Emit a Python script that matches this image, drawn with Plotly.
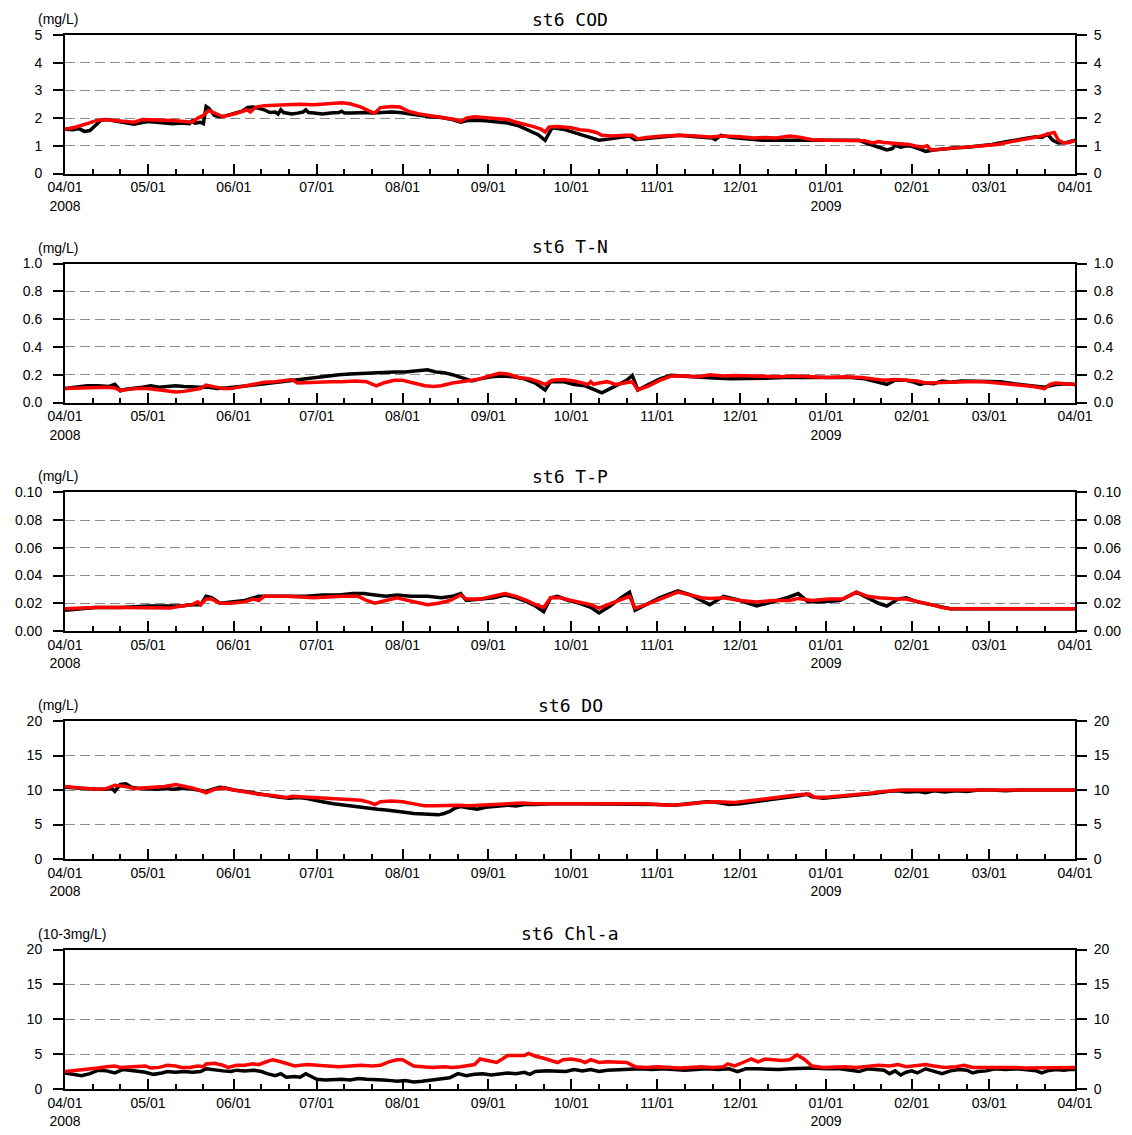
import pandas as pd
import plotly.graph_objects as go

# ---------------------------------------------------------------------------
# Station st6, April 2008 - March 2009.  Series are given as (day offset from
# 2008-04-01, value) pairs; "obs" is drawn in black, "calc" in red.
# ---------------------------------------------------------------------------
START = pd.Timestamp("2008-04-01")

cod_obs_day = [0, 3, 5, 7, 9, 11, 13, 15, 18, 21, 23, 25, 27, 30, 33, 36, 39, 42, 45, 46, 47, 49, 50, 51, 52, 54, 56, 58, 61, 64, 66, 68, 70, 72, 74, 76, 77, 78, 79, 82, 84, 86, 87, 88, 90, 93, 96, 99, 100, 101, 104, 108, 111, 115, 118, 121, 124, 128, 132, 136, 140, 143, 145, 148, 152, 156, 160, 164, 168, 171, 173.5, 176, 180, 185, 190, 193, 197, 202, 204, 206, 209, 215, 222, 228, 234, 235, 237, 241, 246, 252, 260, 268, 275, 282, 287, 290, 293, 295, 297, 299, 300, 302, 304, 306, 309, 311, 314, 318, 322, 326, 330, 335, 340, 344, 348, 351, 353, 355, 357, 359, 362, 365]
cod_obs = [1.60, 1.58, 1.62, 1.52, 1.55, 1.75, 1.92, 1.95, 1.90, 1.85, 1.80, 1.78, 1.82, 1.88, 1.85, 1.82, 1.80, 1.82, 1.80, 1.90, 1.82, 1.85, 1.80, 2.42, 2.35, 2.10, 2.05, 2.08, 2.15, 2.25, 2.38, 2.40, 2.35, 2.30, 2.20, 2.22, 2.15, 2.30, 2.20, 2.15, 2.18, 2.22, 2.30, 2.20, 2.18, 2.15, 2.18, 2.20, 2.25, 2.18, 2.18, 2.20, 2.18, 2.20, 2.22, 2.20, 2.15, 2.10, 2.05, 2.02, 1.95, 1.85, 1.90, 1.92, 1.90, 1.85, 1.82, 1.72, 1.55, 1.40, 1.20, 1.65, 1.60, 1.45, 1.30, 1.20, 1.25, 1.32, 1.35, 1.22, 1.25, 1.32, 1.38, 1.33, 1.28, 1.22, 1.38, 1.30, 1.25, 1.20, 1.20, 1.20, 1.20, 1.20, 1.20, 1.08, 1.00, 0.92, 0.85, 0.90, 1.02, 0.95, 1.00, 0.98, 0.88, 0.80, 0.85, 0.90, 0.93, 0.95, 1.00, 1.05, 1.15, 1.20, 1.28, 1.33, 1.30, 1.42, 1.20, 1.10, 1.12, 1.20]
cod_calc_day = [0, 4, 8, 11, 14, 18, 22, 25, 28, 32, 36, 40, 44, 46, 48, 50, 52, 54, 57, 61, 64, 66, 67, 69, 72, 76, 80, 85, 90, 95, 100, 103, 107, 110, 112, 114, 118, 121, 124, 128, 133, 138, 141, 143, 145, 148, 152, 156, 160, 163, 166, 169, 172, 173.5, 175, 178, 183, 186, 189, 192, 194, 198, 202, 205, 207, 210, 216, 222, 228, 233, 238, 244, 249, 253, 257, 262, 266, 270, 276, 283, 289, 292, 294, 296, 299, 302, 305, 308, 310, 311.5, 313, 317, 322, 327, 332, 337, 342, 347, 352, 356, 357.5, 359, 361, 363, 365]
cod_calc = [1.60, 1.68, 1.80, 1.90, 1.95, 1.92, 1.88, 1.85, 1.95, 1.95, 1.92, 1.90, 1.85, 1.85, 2.00, 2.10, 2.28, 2.20, 2.05, 2.15, 2.25, 2.30, 2.22, 2.40, 2.45, 2.48, 2.48, 2.50, 2.48, 2.52, 2.55, 2.52, 2.40, 2.25, 2.18, 2.38, 2.42, 2.40, 2.25, 2.15, 2.08, 2.02, 1.95, 1.88, 2.00, 2.05, 2.02, 1.98, 1.95, 1.85, 1.78, 1.70, 1.60, 1.50, 1.68, 1.70, 1.65, 1.58, 1.55, 1.48, 1.38, 1.35, 1.38, 1.38, 1.25, 1.30, 1.35, 1.38, 1.35, 1.32, 1.35, 1.33, 1.28, 1.30, 1.28, 1.35, 1.30, 1.22, 1.20, 1.20, 1.18, 1.10, 1.15, 1.12, 1.10, 1.08, 1.05, 0.98, 0.95, 1.00, 0.85, 0.88, 0.92, 0.96, 0.98, 1.05, 1.15, 1.25, 1.33, 1.45, 1.48, 1.20, 1.10, 1.12, 1.20]

tn_obs_day = [0, 4, 8, 12, 16, 18, 20, 22, 25, 28, 31, 34, 37, 40, 43, 46, 49, 52, 55, 58, 62, 66, 70, 74, 78, 82, 85, 88, 91, 95, 99, 103, 107, 111, 115, 119, 123, 127, 131, 134, 137, 140, 143, 145, 147, 150, 154, 158, 162, 166, 170, 173.5, 175.5, 180, 184, 188, 192, 194, 197, 200, 203, 205, 207, 211, 215, 219, 225, 231, 236, 241, 247, 253, 260, 266, 272, 278, 284, 289, 293, 297, 300, 304, 307, 309, 311, 314, 317, 320, 324, 328, 333, 338, 343, 347, 351, 354, 356, 358, 362, 365]
tn_obs = [0.100, 0.110, 0.120, 0.120, 0.115, 0.130, 0.085, 0.095, 0.100, 0.110, 0.120, 0.110, 0.115, 0.120, 0.115, 0.110, 0.110, 0.110, 0.100, 0.105, 0.110, 0.120, 0.130, 0.140, 0.150, 0.160, 0.165, 0.170, 0.180, 0.190, 0.200, 0.205, 0.210, 0.210, 0.215, 0.220, 0.220, 0.225, 0.235, 0.220, 0.215, 0.200, 0.180, 0.170, 0.155, 0.170, 0.185, 0.190, 0.185, 0.170, 0.140, 0.090, 0.150, 0.150, 0.130, 0.120, 0.085, 0.070, 0.100, 0.130, 0.160, 0.195, 0.090, 0.130, 0.170, 0.195, 0.190, 0.180, 0.175, 0.170, 0.170, 0.175, 0.180, 0.180, 0.180, 0.185, 0.180, 0.170, 0.150, 0.130, 0.160, 0.160, 0.145, 0.130, 0.140, 0.135, 0.155, 0.145, 0.155, 0.155, 0.150, 0.150, 0.135, 0.125, 0.120, 0.110, 0.120, 0.130, 0.135, 0.130]
tn_calc_day = [0, 5, 10, 15, 18, 20, 23, 26, 30, 34, 37, 40, 43, 46, 49, 51, 54, 57, 60, 64, 68, 72, 76, 80, 82, 84, 88, 92, 96, 100, 105, 109, 112.5, 115, 119, 122, 126, 130, 133, 136, 140, 144, 147, 150, 153, 157, 160, 164, 168, 171, 173.5, 176, 180, 184, 187, 189, 190, 191, 193, 196, 199, 203, 205, 207, 211, 215, 219, 224, 229, 233, 238, 242, 247, 252, 258, 264, 270, 276, 282, 288, 292, 296, 300, 304, 308, 311, 315, 320, 326, 332, 337, 342, 346, 350, 354, 356, 358, 362, 365]
tn_calc = [0.100, 0.105, 0.110, 0.110, 0.105, 0.085, 0.095, 0.100, 0.100, 0.090, 0.085, 0.075, 0.080, 0.090, 0.100, 0.125, 0.110, 0.100, 0.100, 0.115, 0.130, 0.145, 0.150, 0.160, 0.165, 0.140, 0.145, 0.145, 0.150, 0.150, 0.155, 0.150, 0.120, 0.140, 0.160, 0.160, 0.140, 0.120, 0.115, 0.120, 0.140, 0.155, 0.160, 0.170, 0.190, 0.210, 0.205, 0.180, 0.170, 0.150, 0.130, 0.160, 0.165, 0.155, 0.140, 0.130, 0.150, 0.130, 0.140, 0.150, 0.130, 0.145, 0.150, 0.090, 0.120, 0.160, 0.190, 0.190, 0.185, 0.200, 0.190, 0.195, 0.190, 0.185, 0.185, 0.190, 0.185, 0.180, 0.185, 0.180, 0.170, 0.160, 0.165, 0.160, 0.155, 0.140, 0.140, 0.145, 0.150, 0.150, 0.140, 0.130, 0.125, 0.115, 0.100, 0.130, 0.140, 0.135, 0.130]

tp_obs_day = [0, 5, 11, 20, 30, 37, 42, 46, 49, 51, 53, 56, 60, 65, 70, 75, 80, 87, 93, 99, 104, 108, 112, 116, 120, 125, 131, 136, 140, 143, 145, 150, 155, 159, 163, 167, 170, 173, 175.5, 178, 182, 186, 190, 193, 197, 201, 204, 206, 210, 215, 221.5, 226, 230, 233, 238, 244, 250, 256, 261, 265, 268.5, 274, 280, 286, 290, 294, 297, 301, 304, 308, 313, 317, 320, 330, 340, 350, 360, 365]
tp_obs = [0.015, 0.016, 0.017, 0.017, 0.018, 0.018, 0.018, 0.019, 0.019, 0.025, 0.024, 0.020, 0.021, 0.022, 0.025, 0.025, 0.025, 0.025, 0.026, 0.026, 0.027, 0.027, 0.026, 0.025, 0.026, 0.025, 0.025, 0.024, 0.025, 0.027, 0.022, 0.023, 0.024, 0.026, 0.024, 0.021, 0.018, 0.014, 0.024, 0.025, 0.022, 0.020, 0.017, 0.013, 0.018, 0.024, 0.028, 0.015, 0.019, 0.024, 0.029, 0.026, 0.022, 0.019, 0.025, 0.022, 0.018, 0.021, 0.024, 0.027, 0.021, 0.021, 0.022, 0.028, 0.024, 0.020, 0.018, 0.023, 0.024, 0.021, 0.019, 0.017, 0.016, 0.016, 0.016, 0.016, 0.016, 0.016]
tp_calc_day = [0, 5, 11, 20, 30, 36, 38, 42, 46, 48, 49, 51, 53, 56, 60, 65, 68, 70, 72, 80, 90, 100, 106, 109, 112, 116, 120, 124, 128, 131, 135, 139, 143, 145, 150, 155, 159, 163, 167, 170, 173, 175.5, 179, 183, 187, 190, 193, 196, 200, 204, 206, 210, 215, 221.5, 226, 230, 233, 238, 244, 250, 256, 262, 265, 270, 276, 281, 286, 290, 294, 297, 301, 304, 309, 313, 317, 320, 330, 340, 350, 360, 365]
tp_calc = [0.016, 0.0165, 0.017, 0.017, 0.017, 0.017, 0.0165, 0.018, 0.019, 0.021, 0.019, 0.023, 0.023, 0.020, 0.020, 0.021, 0.023, 0.022, 0.025, 0.025, 0.024, 0.025, 0.025, 0.022, 0.020, 0.022, 0.024, 0.022, 0.020, 0.019, 0.020, 0.022, 0.026, 0.023, 0.023, 0.025, 0.027, 0.025, 0.022, 0.019, 0.017, 0.024, 0.024, 0.022, 0.020, 0.019, 0.0165, 0.019, 0.022, 0.025, 0.0165, 0.019, 0.023, 0.028, 0.026, 0.024, 0.0235, 0.024, 0.022, 0.021, 0.022, 0.022, 0.0235, 0.022, 0.023, 0.023, 0.028, 0.025, 0.024, 0.0235, 0.023, 0.023, 0.021, 0.019, 0.017, 0.016, 0.016, 0.016, 0.016, 0.016, 0.016]

do_obs_day = [0, 4, 8, 12, 15, 17, 18, 20, 22, 24, 27, 30, 33, 36, 39, 42, 45, 48, 51, 54, 56, 58, 61, 65, 69, 73, 77, 81, 84, 87, 90, 93, 97, 101, 104, 107, 110, 113, 116, 119, 122, 126, 130, 133, 135, 137, 139, 141, 143, 146, 149, 152, 156, 160, 163, 166, 170, 176, 184, 192, 200, 207, 214, 220, 226, 232, 236, 240, 244, 250, 256, 262, 266, 268, 270, 274, 280, 286, 292, 298, 301, 304, 308, 311, 314, 318, 322, 326, 330, 335, 340, 345, 350, 355, 360, 365]
do_obs = [10.4, 10.3, 10.1, 10.1, 10.1, 10.2, 9.8, 10.8, 10.9, 10.4, 10.2, 10.1, 10.1, 10.2, 10.1, 10.2, 10.2, 10.0, 9.8, 10.2, 10.4, 10.3, 10.0, 9.8, 9.5, 9.3, 9.0, 8.8, 8.9, 8.8, 8.5, 8.3, 8.0, 7.8, 7.6, 7.4, 7.3, 7.2, 7.1, 7.0, 6.8, 6.6, 6.5, 6.4, 6.4, 6.6, 6.9, 7.4, 7.6, 7.4, 7.2, 7.5, 7.6, 7.8, 7.7, 7.9, 7.9, 8.0, 8.0, 8.0, 8.0, 7.9, 7.9, 7.8, 8.0, 8.3, 8.2, 7.9, 8.0, 8.3, 8.6, 9.0, 9.2, 9.4, 9.0, 8.8, 9.0, 9.2, 9.5, 9.8, 9.9, 9.7, 9.8, 9.6, 9.9, 9.7, 9.9, 9.8, 10.0, 10.0, 9.9, 10.0, 10.0, 9.9, 10.0, 10.0]
do_calc_day = [0, 4, 8, 12, 15, 18, 20, 22, 25, 29, 32, 36, 40, 43, 46, 49, 51, 54, 57, 61, 65, 70, 75, 80, 82, 87, 92, 97, 102, 107, 110, 112, 114, 118, 122, 126, 130, 134, 138, 142, 146, 150, 155, 160, 165, 170, 180, 190, 200, 210, 218, 224, 230, 236, 242, 248, 254, 260, 265, 269, 271, 276, 282, 290, 296, 302, 310, 320, 330, 340, 350, 365]
do_calc = [10.5, 10.3, 10.2, 10.1, 10.2, 10.7, 10.6, 10.5, 10.2, 10.3, 10.4, 10.5, 10.8, 10.6, 10.3, 9.9, 9.6, 10.1, 10.3, 10.0, 9.7, 9.4, 9.2, 8.9, 9.1, 9.0, 8.9, 8.8, 8.7, 8.5, 8.2, 7.9, 8.3, 8.4, 8.3, 8.0, 7.7, 7.7, 7.8, 7.8, 7.7, 7.8, 7.9, 8.1, 8.1, 8.0, 8.0, 8.0, 8.0, 8.0, 7.8, 7.9, 8.2, 8.3, 8.2, 8.5, 8.8, 9.1, 9.3, 9.4, 8.9, 9.0, 9.2, 9.5, 9.8, 10.0, 10.0, 10.0, 10.0, 10.0, 10.0, 10.0]

chl_obs_day = [0, 3, 6, 9, 12, 15, 18, 21, 24, 27, 29, 32, 35, 37, 40, 43, 46, 49, 51, 54, 57, 60, 62, 65, 68, 71, 73, 76, 78, 80, 83, 85, 87, 89, 91, 94, 97, 100, 103, 106, 109, 112, 115, 118, 120, 123, 126, 129, 133, 136, 139, 142, 145, 148, 151, 154, 157, 160, 163, 166, 168, 170, 174, 178, 181, 184, 187, 190, 193, 196, 200, 204, 208, 212, 216, 220, 224, 228, 232, 236, 240, 243, 246, 250, 254, 258, 262, 266, 270, 275, 280, 284, 287, 290, 293, 296, 298, 300, 302, 304, 306, 308, 311, 314, 317, 320, 323, 326, 328, 330, 333, 336, 340, 344, 348, 351, 353, 355, 358, 361, 363, 365]
chl_obs = [2.3, 2.1, 1.9, 2.2, 2.7, 2.6, 2.3, 2.8, 2.6, 2.5, 2.4, 2.1, 2.3, 2.5, 2.4, 2.5, 2.4, 2.5, 2.9, 2.7, 2.6, 2.5, 2.7, 2.6, 2.7, 2.5, 2.2, 1.9, 2.2, 1.7, 1.8, 1.7, 2.2, 1.8, 1.4, 1.3, 1.4, 1.4, 1.3, 1.5, 1.4, 1.4, 1.3, 1.2, 1.1, 1.2, 1.0, 1.1, 1.3, 1.4, 1.6, 2.2, 1.9, 2.1, 2.2, 2.0, 2.2, 2.3, 2.2, 2.4, 2.1, 2.5, 2.6, 2.6, 2.5, 2.8, 2.6, 2.8, 2.5, 2.7, 2.8, 2.8, 2.9, 2.8, 2.9, 2.8, 2.7, 2.8, 2.9, 2.8, 2.9, 2.5, 2.9, 2.9, 2.8, 2.8, 2.9, 3.0, 3.0, 2.9, 2.9, 2.7, 2.5, 2.9, 2.8, 2.7, 2.2, 2.6, 2.0, 2.4, 2.6, 2.3, 2.9, 2.6, 2.2, 2.6, 2.8, 2.7, 2.3, 2.5, 2.6, 2.9, 2.8, 2.9, 2.8, 2.6, 2.3, 2.6, 2.8, 2.7, 2.8, 2.8]
chl_calc_day = [0, 3, 6, 9, 12, 15, 18, 20, 23, 26, 29, 31, 34, 37, 40, 42, 45, 48, 50, 51, 54, 57, 59, 62, 65, 68, 70, 72, 75, 78, 81, 83, 85, 88, 91, 95, 99, 103, 107, 111, 114, 117, 120, 122, 124, 126, 129, 133, 137, 140, 143, 146, 148, 150, 153, 156, 158, 160, 163, 166, 167.5, 170, 173, 176, 178, 180, 183, 186, 188, 190, 193, 196, 200, 203, 206, 210, 214, 218, 222, 226, 230, 234, 238, 239.5, 242, 245, 248, 250.5, 253, 256, 259, 262, 264.5, 267, 270, 274, 278, 282, 286, 290, 294, 298, 301, 304, 308, 311, 314, 318, 322, 325, 328, 331, 335, 339, 343, 347, 351, 355, 359, 362, 365]
chl_calc = [2.5, 2.6, 2.7, 2.9, 3.0, 3.2, 3.3, 3.1, 3.2, 3.3, 3.3, 3.0, 3.1, 3.4, 3.3, 3.1, 3.1, 3.3, 3.2, 3.6, 3.7, 3.4, 3.1, 3.4, 3.4, 3.6, 3.5, 3.8, 4.2, 3.9, 3.6, 3.3, 3.4, 3.5, 3.4, 3.3, 3.2, 3.3, 3.4, 3.3, 3.4, 3.9, 4.2, 4.2, 3.7, 3.3, 3.2, 3.1, 3.2, 3.1, 3.2, 3.4, 3.5, 4.3, 4.1, 3.8, 4.3, 4.8, 4.8, 4.8, 5.1, 4.7, 4.4, 4.1, 3.8, 4.2, 4.3, 4.1, 3.8, 4.2, 3.8, 3.9, 3.9, 3.8, 3.2, 3.1, 3.2, 3.1, 3.0, 3.1, 3.2, 3.1, 3.2, 3.6, 3.3, 3.8, 4.3, 3.9, 4.3, 4.2, 4.1, 4.2, 4.9, 4.3, 3.3, 3.1, 3.2, 3.2, 3.1, 3.2, 3.4, 3.3, 3.5, 3.2, 3.3, 3.5, 3.3, 3.1, 3.2, 3.4, 3.1, 3.1, 3.2, 3.1, 3.1, 3.0, 3.0, 3.0, 3.0, 3.1, 3.1]

# Axis labelling
month_ticks = ["2008-04-01", "2008-05-01", "2008-06-01", "2008-07-01", "2008-08-01", "2008-09-01",
               "2008-10-01", "2008-11-01", "2008-12-01", "2009-01-01", "2009-02-01", "2009-03-01", "2009-04-01"]
month_labels = ["04/01<br>2008", "05/01", "06/01", "07/01", "08/01", "09/01",
                "10/01", "11/01", "12/01", "01/01<br>2009", "02/01", "03/01", "04/01"]
minor_ticks = [f"{y}-{m:02d}-{d}" for (y, m) in
               [(2008, 4), (2008, 5), (2008, 6), (2008, 7), (2008, 8), (2008, 9), (2008, 10),
                (2008, 11), (2008, 12), (2009, 1), (2009, 2), (2009, 3)] for d in (11, 21)]

panel_titles = ["st6 COD", "st6 T-N", "st6 T-P", "st6 DO", "st6 Chl-a"]
panel_units = ["(mg/L)", "(mg/L)", "(mg/L)", "(mg/L)", "(10-3mg/L)"]
y_ticks = [[0, 1, 2, 3, 4, 5],
           [0, 0.2, 0.4, 0.6, 0.8, 1.0],
           [0, 0.02, 0.04, 0.06, 0.08, 0.10],
           [0, 5, 10, 15, 20],
           [0, 5, 10, 15, 20]]
y_tick_text = [["0", "1", "2", "3", "4", "5"],
               ["0.0", "0.2", "0.4", "0.6", "0.8", "1.0"],
               ["0.00", "0.02", "0.04", "0.06", "0.08", "0.10"],
               ["0", "5", "10", "15", "20"],
               ["0", "5", "10", "15", "20"]]

series = [
    (cod_obs_day, cod_obs, cod_calc_day, cod_calc),
    (tn_obs_day, tn_obs, tn_calc_day, tn_calc),
    (tp_obs_day, tp_obs, tp_calc_day, tp_calc),
    (do_obs_day, do_obs, do_calc_day, do_calc),
    (chl_obs_day, chl_obs, chl_calc_day, chl_calc),
]

# ---------------------------------------------------------------------------
W, H = 1132, 1135
PLOT_LEFT, PLOT_RIGHT = 65, 1075
PANEL_TOPS = [35, 263.5, 492.3, 721, 949.5]
PANEL_BOTTOMS = [173.5, 402.5, 631, 859, 1089]
TITLE_Y = [19, 247, 476, 705, 933]

def px_x(px):
    return px / W

def px_y(px):
    return 1 - px / H

def to_dates(days):
    return START + pd.to_timedelta(days, unit="D")

TICK_FONT = dict(family="Liberation Sans, Arial, sans-serif", size=14, color="black")

fig = go.Figure()
layout = dict(
    width=W, height=H,
    margin=dict(l=0, r=0, t=0, b=0, autoexpand=False),
    paper_bgcolor="white", plot_bgcolor="white",
    showlegend=False,
    annotations=[],
)

for i in range(5):
    n = i + 1
    xa = "x" if n == 1 else f"x{n}"
    ya = "y" if n == 1 else f"y{n}"
    rn = n + 5
    obs_day, obs_val, calc_day, calc_val = series[i]

    fig.add_trace(go.Scatter(x=to_dates(obs_day), y=obs_val, mode="lines",
                             line=dict(color="black", width=3.5), xaxis=xa, yaxis=ya,
                             hoverinfo="skip"))
    fig.add_trace(go.Scatter(x=to_dates(calc_day), y=calc_val, mode="lines",
                             line=dict(color="#ff0000", width=3.5), xaxis=xa, yaxis=ya,
                             hoverinfo="skip"))

    yr = [y_ticks[i][0], y_ticks[i][-1]]
    dom_y = [px_y(PANEL_BOTTOMS[i]), px_y(PANEL_TOPS[i])]

    layout[f"xaxis{n}"] = dict(
        domain=[px_x(PLOT_LEFT), px_x(PLOT_RIGHT)], anchor=ya, automargin=False,
        type="date", range=["2008-04-01", "2009-04-01"],
        tickmode="array", tickvals=month_ticks, ticktext=month_labels,
        ticks="inside", ticklen=10, tickwidth=2, tickcolor="black",
        minor=dict(tickmode="array", tickvals=minor_ticks, ticks="inside",
                   ticklen=5, tickwidth=2, tickcolor="black", showgrid=False),
        showline=True, linecolor="black", linewidth=2, mirror=True,
        showgrid=False, zeroline=False, tickfont=TICK_FONT, tickangle=0,
    )
    layout[f"yaxis{n}"] = dict(
        domain=dom_y, anchor=xa, range=yr, automargin=False,
        tickmode="array", tickvals=y_ticks[i], ticktext=y_tick_text[i],
        ticks="outside", ticklen=10, tickwidth=2, tickcolor="black",
        showline=True, linecolor="black", linewidth=2,
        showgrid=True, gridcolor="#8c8c8c", gridwidth=1, griddash="10px,5px",
        zeroline=False, tickfont=TICK_FONT, ticklabelstandoff=8,
    )
    layout[f"yaxis{rn}"] = dict(
        overlaying=ya, side="right", anchor=xa, range=yr, automargin=False,
        tickmode="array", tickvals=y_ticks[i], ticktext=y_tick_text[i],
        ticks="outside", ticklen=10, tickwidth=2, tickcolor="black",
        showline=True, linecolor="black", linewidth=2,
        showgrid=False, zeroline=False, tickfont=TICK_FONT, ticklabelstandoff=4,
    )
    # keep the right-hand axis attached to its own subplot
    fig.add_trace(go.Scatter(x=to_dates([0]), y=[yr[0]], mode="markers",
                             marker=dict(opacity=0), xaxis=xa, yaxis=f"y{rn}",
                             hoverinfo="skip"))

    layout["annotations"].append(dict(
        text=panel_titles[i], xref="paper", yref="paper",
        x=px_x((PLOT_LEFT + PLOT_RIGHT) / 2), y=px_y(TITLE_Y[i]),
        xanchor="center", yanchor="middle", showarrow=False,
        font=dict(family="DejaVu Sans Mono, monospace", size=18, color="black"),
    ))
    layout["annotations"].append(dict(
        text=panel_units[i], xref="paper", yref="paper",
        x=px_x(36), y=px_y(PANEL_TOPS[i] - 6),
        xanchor="left", yanchor="bottom", showarrow=False,
        font=dict(family="Liberation Sans, Arial, sans-serif", size=14, color="black"),
    ))

fig.update_layout(**layout)
fig.write_html("out.html")
